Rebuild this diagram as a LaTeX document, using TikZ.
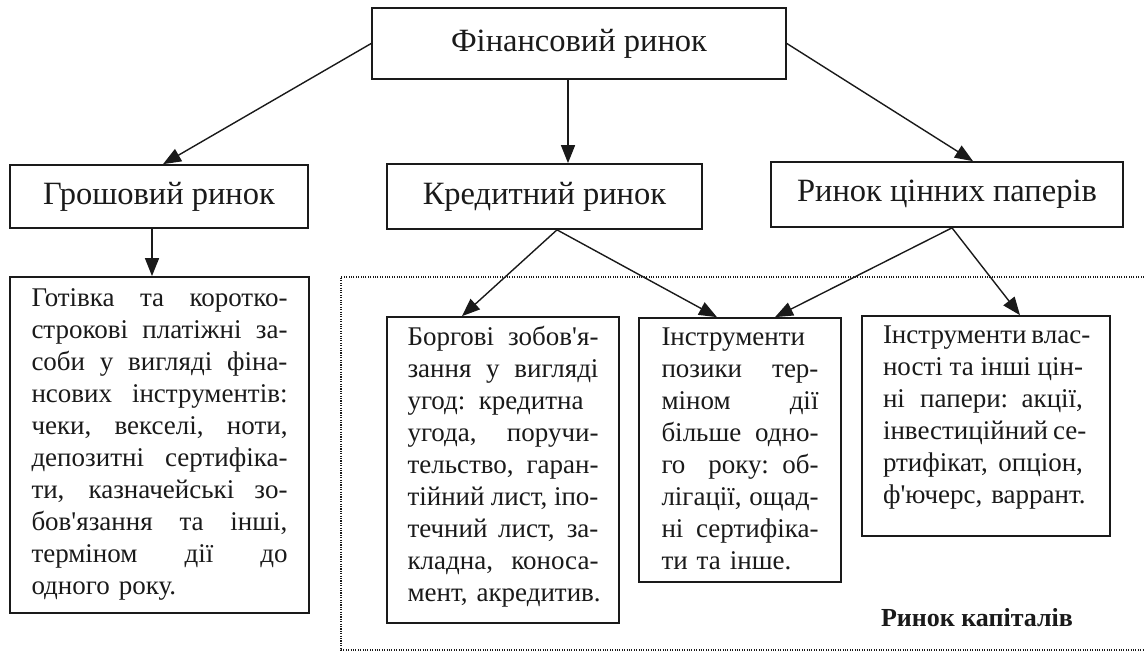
\documentclass[tikz,border=0pt]{standalone}
\usepackage{fontspec}
\newfontfamily\ukr{Liberation Serif}
\usetikzlibrary{arrows.meta}
\definecolor{ink}{HTML}{1A1A1A}
\newcommand\jl[1]{\hbox to\linewidth{\strut\spaceskip=.18em plus 1fil\relax #1}}
\newcommand\lastline[1]{\hbox{\strut #1}}
\begin{document}
\begin{tikzpicture}[x=1pt,y=-1pt,
  hdr/.style={draw=ink, line width=1.7pt, inner sep=0pt, text=ink,
    font=\ukr\fontsize{32.5}{38}\selectfont},
  tbox/.style={draw=ink, line width=1.7pt, inner sep=0pt},
  txt/.style={anchor=north, inner sep=0pt, text=ink,
    font=\ukr\fontsize{27}{32}\selectfont},
  arr/.style={draw=ink, line width=1.4pt, -{Triangle[length=18pt,width=14pt]}},
  dotline/.style={draw=ink, line width=1.1pt, dash pattern=on 1.1pt off 1.3pt}]
\useasboundingbox[fill=white] (0,0) rectangle (1144,651);

% header boxes
\node[hdr, minimum width=414pt, minimum height=71pt] (fin) at (579,43.5) {Фінансовий ринок};
\node[hdr, minimum width=298pt, minimum height=63pt] (grosh) at (159,196.5) {Грошовий ринок};
\node[hdr, minimum width=315pt, minimum height=65pt] (kred) at (544.5,196.5) {Кредитний ринок};
\node[hdr, minimum width=352pt, minimum height=65pt] (cp) at (947,194.5) {Ринок цінних паперів};

% capital market frame
\draw[dotline] (1144,277) -- (341,277) -- (341,650) -- (1144,650);
\node[font=\ukr\bfseries\fontsize{26}{30}\selectfont, text=ink, inner sep=0pt] (cap) at (977,618) {Ринок капіталів};

% text boxes
\node[tbox, minimum width=299pt, minimum height=336pt] (got) at (159.5,445) {};
\node[txt, text width=256pt] (gott) at ([yshift=-7.6pt]got.north) {%
\jl{Готівка та коротко-}
\jl{строкові платіжні за-}
\jl{соби у вигляді фіна-}
\jl{нсових інструментів:}
\jl{чеки, векселі, ноти,}
\jl{депозитні сертифіка-}
\jl{ти, казначейські зо-}
\jl{бов'язання та інші,}
\jl{терміном дії до}
\lastline{одного року.}};

\node[tbox, minimum width=232pt, minimum height=306pt] (borg) at (503,470) {};
\node[txt, text width=191pt] (borgt) at ([yshift=-6.6pt]borg.north) {%
\jl{Боргові зобов'я-}
\jl{зання у вигляді}
\jl{угод: кредитна}
\jl{угода, поручи-}
\jl{тельство, гаран-}
\jl{тійний лист, іпо-}
\jl{течний лист, за-}
\jl{кладна, коноса-}
\lastline{мент, акредитив.}};

\node[tbox, minimum width=202pt, minimum height=264pt] (poz) at (740,450) {};
\node[txt, text width=157pt] (pozt) at ([yshift=-5.6pt]poz.north) {%
\jl{Інструменти}
\jl{позики тер-}
\jl{міном дії}
\jl{більше одно-}
\jl{го року: об-}
\jl{лігації, ощад-}
\jl{ні сертифіка-}
\lastline{ти та інше.}};

\node[tbox, minimum width=248pt, minimum height=220pt] (vlas) at (986,426) {};
\node[txt, text width=200pt] (vlast) at ([xshift=-3pt,yshift=-5.6pt]vlas.north) {%
\jl{Інструменти влас-}
\jl{ності та інші цін-}
\jl{ні папери: акції,}
\jl{інвестиційний се-}
\jl{ртифікат, опціон,}
\lastline{ф'ючерс, варрант.}};

% connectors
\draw[arr] (fin.west) -- ([xshift=4pt]grosh.north);
\draw[arr] ([xshift=-11pt]fin.south) -- ([xshift=23.5pt]kred.north);
\draw[arr] (fin.east) -- ([xshift=26pt]cp.north);
\draw[arr] ([xshift=-7pt]grosh.south) -- ([xshift=-7.5pt]got.north);
\draw[arr] ([xshift=12.5pt]kred.south) -- ([xshift=-41pt]borg.north);
\draw[arr] ([xshift=12.5pt]kred.south) -- ([xshift=-23pt]poz.north);
\draw[arr] ([xshift=5pt]cp.south) -- ([xshift=35pt]poz.north);
\draw[arr] ([xshift=5pt]cp.south) -- ([xshift=34pt]vlas.north);
\end{tikzpicture}
\end{document}
